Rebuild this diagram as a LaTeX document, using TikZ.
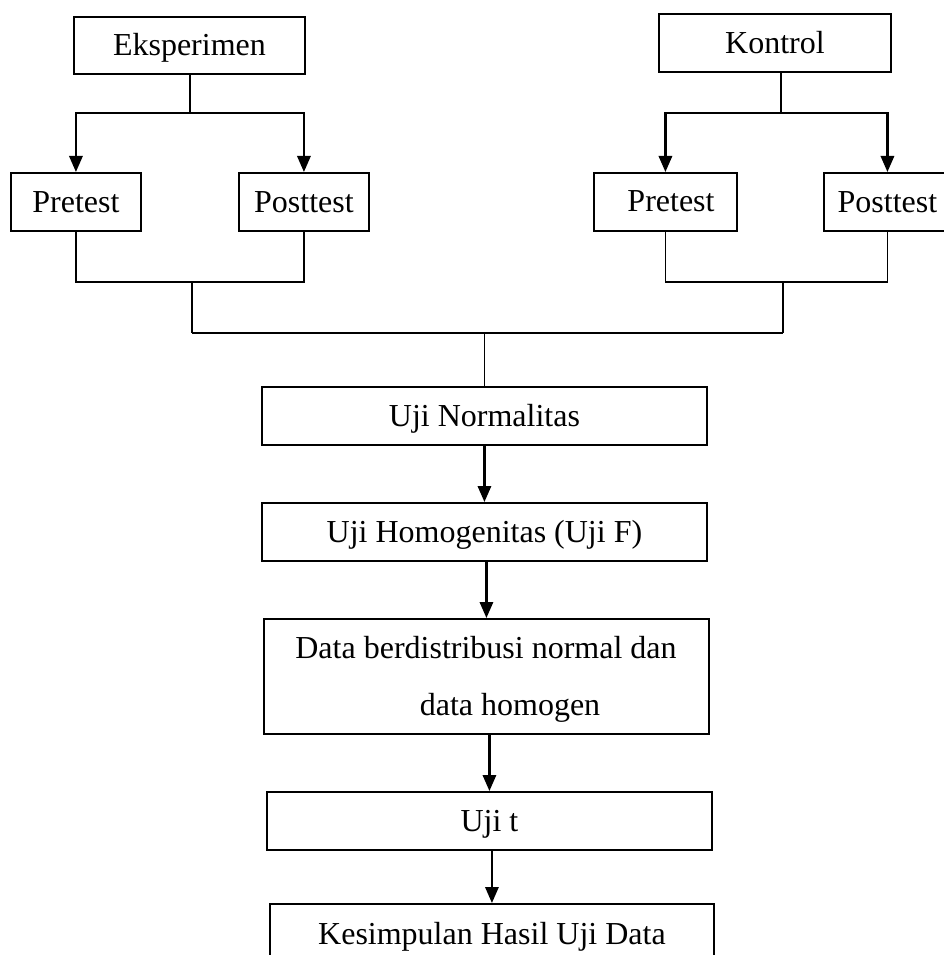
\documentclass[tikz,border=0pt]{standalone}
\usepackage{fontspec}
\setmainfont{Liberation Serif}
\usetikzlibrary{arrows.meta}
\begin{document}
\begin{tikzpicture}[x=0.75pt,y=-0.75pt,
  font=\fontsize{24}{28}\selectfont,
  box/.style={draw, line width=1.4pt, anchor=north west, inner sep=0pt,
    text height=18pt, text depth=2.2pt},
  sz/.style 2 args={minimum width=#1*0.75pt, minimum height=#2*0.75pt},
  txt/.style={inner sep=0pt, anchor=base},
  ln/.style={line width=1pt},
  arr/.style={line width=1.6pt, -{Triangle[width=10pt,length=12pt]}}]
\useasboundingbox (0,0) rectangle (944,955);
% boxes
\node[box, sz={231}{57}] (eks) at (73,16) {Eksperimen};
\node[box, sz={130}{58}] (pre1) at (10,172) {Pretest};
\node[box, sz={130}{58}] (post1) at (238,172) {Posttest};
\node[box, sz={232}{58}] (kon) at (658,13) {Kontrol};
\node[box, sz={143}{58}] (pre2) at (593,172) {};
\node[txt] (pre2t) at (671,212) {Pretest};
\node[box, sz={127}{58}] (post2) at (823,172) {Posttest};
\node[box, sz={445}{58}] (norm) at (261,386) {Uji Normalitas};
\node[box, sz={445}{58}] (homo) at (261,502) {Uji Homogenitas (Uji F)};
\node[box, sz={445}{115}] (data) at (263,618) {};
\node[txt] (data1) at (486,658) {Data berdistribusi normal dan};
\node[txt] (data2) at (510,715) {data homogen};
\node[box, sz={445}{58}] (ujit) at (266,791) {Uji t};
\node[box, sz={444}{60}] (kes) at (269,903) {Kesimpulan Hasil Uji Data};
% helper coordinates
\coordinate (h1) at (0,282);
\coordinate (h2) at (0,333);
\coordinate (j1) at (190,113);
\coordinate (j2) at (781,113);
\coordinate (m1) at (192,282);
\coordinate (m2) at (783,282);
% top splits
\draw[ln] (j1 |- eks.south) -- (j1);
\draw[arr] (j1) -| (pre1.north);
\draw[arr] (j1) -| (post1.north);
\draw[ln] (j2 |- kon.south) -- (j2);
\draw[arr] (j2) -| (pre2.north);
\draw[arr] (j2) -| (post2.north);
% joins
\draw[ln] (pre1.south) -- (pre1.south |- h1) -- (post1.south |- h1) -- (post1.south);
\draw[ln] (pre2.south) -- (pre2.south |- h1) -- (post2.south |- h1) -- (post2.south);
\draw[ln] (m1) -- (m1 |- h2);
\draw[ln] (m2) -- (m2 |- h2);
\draw[ln] (m1 |- h2) -- (m2 |- h2);
\draw[ln] (norm.north |- h2) -- (norm.north);
% vertical flow
\draw[arr] (norm.south) -- (homo.north);
\draw[arr] (data.north |- homo.south) -- (data.north);
\draw[arr] (ujit.north |- data.south) -- (ujit.north);
\draw[arr] (kes.north |- ujit.south) -- (kes.north);
\end{tikzpicture}
\end{document}
